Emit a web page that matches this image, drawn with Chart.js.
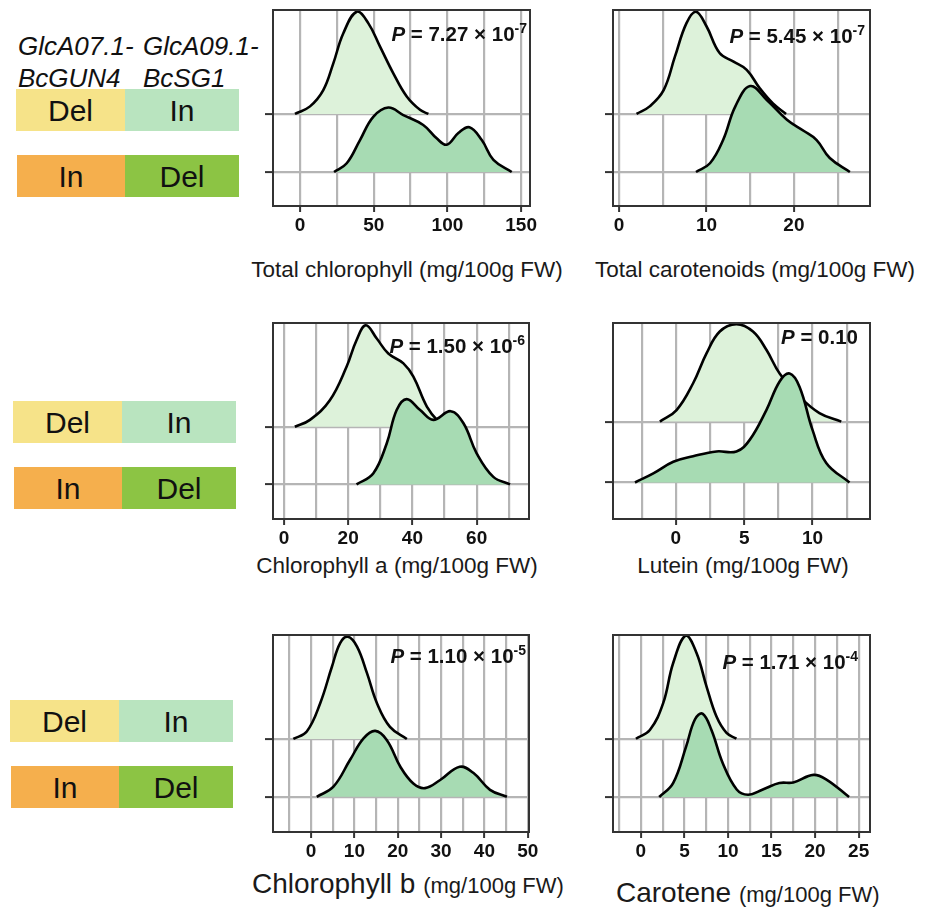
<!DOCTYPE html>
<html>
<head>
<meta charset="utf-8">
<script src="https://cdn.jsdelivr.net/npm/chart.js@4.4.1/dist/chart.umd.min.js"></script>
<style>
  body { margin: 0; background: #fff; }
  #page { position: relative; width: 930px; height: 911px; overflow: hidden; font-family: "Liberation Sans", Arial, sans-serif; color: #111; }
  .panel { position: absolute; }
  .cell { position: absolute; height: 42px; line-height: 44px; text-align: center; font-size: 30px; }
  .gene { position: absolute; font-size: 26px; font-style: italic; line-height: 1; white-space: nowrap; }
  .pval { position: absolute; font-size: 20.5px; font-weight: bold; line-height: 1; white-space: nowrap; color: #111; }
  .pval sup { font-size: 14px; line-height: 0; vertical-align: 8px; }
  .xt { position: absolute; width: 400px; text-align: center; font-size: 22.5px; line-height: 1; white-space: nowrap; color: #1a1a1a; }
  .xt2 { position: absolute; font-size: 28px; line-height: 28px; white-space: nowrap; color: #1a1a1a; }
  .xt2 span { font-size: 22px; line-height: 1; }
</style>
</head>
<body>
<div id="page">
  <div class="gene" style="left:18px;top:33px">GlcA07.1-</div>
  <div class="gene" style="left:18px;top:65px">BcGUN4</div>
  <div class="gene" style="left:143px;top:33px">GlcA09.1-</div>
  <div class="gene" style="left:143px;top:65px">BcSG1</div>

  <div class="cell" style="left:16px;top:89px;width:109px;background:#f6e389">Del</div>
  <div class="cell" style="left:125px;top:89px;width:114px;background:#b9e4bf">In</div>
  <div class="cell" style="left:17px;top:155px;width:108px;background:#f5af4d">In</div>
  <div class="cell" style="left:125px;top:155px;width:114px;background:#8cc444">Del</div>

  <div class="cell" style="left:13px;top:401px;width:109px;background:#f6e389">Del</div>
  <div class="cell" style="left:122px;top:401px;width:114px;background:#b9e4bf">In</div>
  <div class="cell" style="left:14px;top:467px;width:108px;background:#f5af4d">In</div>
  <div class="cell" style="left:122px;top:467px;width:114px;background:#8cc444">Del</div>

  <div class="cell" style="left:10px;top:700px;width:109px;background:#f6e389">Del</div>
  <div class="cell" style="left:119px;top:700px;width:114px;background:#b9e4bf">In</div>
  <div class="cell" style="left:11px;top:766px;width:108px;background:#f5af4d">In</div>
  <div class="cell" style="left:119px;top:766px;width:114px;background:#8cc444">Del</div>

  <div class="panel" style="left:265px;top:8px"><canvas id="totalChl" width="281" height="228"></canvas></div>
  <div class="panel" style="left:605px;top:8px"><canvas id="totalCar" width="281" height="228"></canvas></div>
  <div class="panel" style="left:265px;top:321px"><canvas id="chlA" width="280" height="228"></canvas></div>
  <div class="panel" style="left:605px;top:321px"><canvas id="lutein" width="281" height="228"></canvas></div>
  <div class="panel" style="left:265px;top:633px"><canvas id="chlB" width="280" height="229"></canvas></div>
  <div class="panel" style="left:605px;top:633px"><canvas id="carotene" width="281" height="229"></canvas></div>

  <div class="pval" style="right:403px;top:24px"><i>P</i> = 7.27 × 10<sup>-7</sup></div>
  <div class="pval" style="right:65px;top:26px"><i>P</i> = 5.45 × 10<sup>-7</sup></div>
  <div class="pval" style="right:405px;top:336px"><i>P</i> = 1.50 × 10<sup>-6</sup></div>
  <div class="pval" style="right:72px;top:327px"><i>P</i> = 0.10</div>
  <div class="pval" style="right:404px;top:646px"><i>P</i> = 1.10 × 10<sup>-5</sup></div>
  <div class="pval" style="right:72px;top:652px"><i>P</i> = 1.71 × 10<sup>-4</sup></div>

  <div class="xt" style="left:207px;top:259px">Total chlorophyll (mg/100g FW)</div>
  <div class="xt" style="left:555px;top:259px">Total carotenoids (mg/100g FW)</div>
  <div class="xt" style="left:197px;top:555px">Chlorophyll a (mg/100g FW)</div>
  <div class="xt" style="left:543px;top:555px">Lutein (mg/100g FW)</div>
  <div class="xt2" style="left:252px;top:870px">Chlorophyll b <span>(mg/100g FW)</span></div>
  <div class="xt2" style="left:616px;top:879px">Carotene <span>(mg/100g FW)</span></div>
</div>

<script>
// ridge heights are in "row units": 1 = gap between the two baselines
// top ridge = GlcA07.1 Del / GlcA09.1 In, bottom ridge = In / Del

const totalChlX_delIn = [-3.4, 6.8, 15.8, 22.6, 29.4, 38.5, 46.4, 54.3, 63.3, 72.4, 81.4, 87.1];
const totalChlH_delIn = [0, 0.13, 0.41, 0.87, 1.39, 1.76, 1.56, 1.16, 0.70, 0.30, 0.07, 0];
const totalChlX_inDel = [23.1, 31.7, 40.7, 49.7, 59.9, 70.1, 83.6, 92.7, 99.5, 107.4, 114.9, 123.3, 131.2, 143.6];
const totalChlH_inDel = [0, 0.15, 0.55, 0.95, 1.11, 0.98, 0.81, 0.58, 0.47, 0.67, 0.77, 0.55, 0.21, 0];
const totalChlTicks = [0, 50, 100, 150];

const totalCarX_delIn = [2.0, 3.5, 5.1, 6.4, 7.7, 8.8, 10.0, 11.5, 13.1, 14.6, 16.1, 17.6, 19.1];
const totalCarH_delIn = [0, 0.13, 0.41, 0.99, 1.56, 1.76, 1.51, 1.05, 0.90, 0.76, 0.44, 0.18, 0];
const totalCarX_inDel = [8.8, 10.4, 11.9, 13.3, 15.0, 16.9, 19.2, 21.1, 22.6, 24.1, 26.4];
const totalCarH_inDel = [0, 0.15, 0.55, 1.13, 1.48, 1.24, 0.90, 0.71, 0.55, 0.24, 0];
const totalCarTicks = [0, 10, 20];

const chlAX_delIn = [3.4, 8.1, 14.3, 19.5, 22.6, 25.5, 28.9, 32.5, 37.2, 40.3, 44.5, 48.1, 50.7];
const chlAH_delIn = [0, 0.12, 0.46, 1.04, 1.50, 1.76, 1.53, 1.27, 1.10, 0.87, 0.35, 0.09, 0];
const chlAX_inDel = [22.6, 27.8, 32.0, 35.1, 38.2, 42.4, 46.5, 51.9, 55.9, 60.0, 65.2, 70.4];
const chlAH_inDel = [0, 0.19, 0.71, 1.29, 1.48, 1.29, 1.12, 1.27, 1.06, 0.54, 0.13, 0];
const chlATicks = [0, 20, 40, 60];

const luteinX_delIn = [-1.17, 0.05, 1.26, 2.24, 3.21, 4.43, 5.64, 6.62, 7.59, 9.05, 10.5, 12.1];
const luteinH_delIn = [0, 0.19, 0.63, 1.12, 1.48, 1.60, 1.48, 1.18, 0.79, 0.41, 0.14, 0];
const luteinX_inDel = [-2.99, -1.65, -0.19, 1.26, 2.97, 4.43, 5.40, 6.62, 7.59, 8.32, 9.05, 10.0, 11.0, 12.7];
const luteinH_inDel = [0, 0.15, 0.34, 0.43, 0.51, 0.51, 0.70, 1.19, 1.66, 1.79, 1.57, 0.86, 0.32, 0];
const luteinTicks = [0, 5, 10];

const chlBX_delIn = [-4.1, -1.0, 2.1, 4.8, 6.7, 8.5, 10.6, 12.9, 15.2, 18.2, 22.1];
const chlBH_delIn = [0, 0.13, 0.62, 1.25, 1.66, 1.77, 1.60, 1.14, 0.62, 0.21, 0];
const chlBX_inDel = [1.3, 5.1, 9.0, 12.1, 14.8, 17.5, 20.6, 23.6, 26.3, 29.8, 34.3, 37.5, 41.3, 45.2];
const chlBH_inDel = [0, 0.17, 0.64, 1.01, 1.14, 0.98, 0.52, 0.23, 0.15, 0.29, 0.52, 0.41, 0.12, 0];
const chlBTicks = [0, 10, 20, 30, 40, 50];

const caroteneX_delIn = [-0.57, 1.03, 2.56, 3.71, 5.16, 6.39, 7.53, 8.68, 9.83, 10.97];
const caroteneH_delIn = [0, 0.15, 0.61, 1.30, 1.77, 1.47, 0.90, 0.38, 0.10, 0];
const caroteneX_inDel = [2.1, 3.7, 5.2, 6.2, 7.07, 8.1, 9.4, 11.0, 12.3, 14.0, 15.9, 17.5, 19.8, 21.3, 23.9];
const caroteneH_inDel = [0, 0.24, 0.87, 1.33, 1.43, 1.15, 0.58, 0.13, 0.04, 0.13, 0.24, 0.25, 0.38, 0.30, 0];
const caroteneTicks = [0, 5, 10, 15, 20, 25];

const LIGHT = "#ddf2da";
const DARK = "#a7dbb3";

// box around each plot area
const frame = {
  id: "frame",
  afterDatasetsDraw(chart) {
    const { ctx, chartArea: a } = chart;
    ctx.save();
    ctx.strokeStyle = "#333";
    ctx.lineWidth = 2;
    ctx.strokeRect(a.left, a.top, a.right - a.left, a.bottom - a.top);
    ctx.restore();
  }
};

function ridge(xs, hs, base, color) {
  return {
    data: xs.map((x, i) => ({ x, y: base + hs[i] })),
    fill: { value: base },
    backgroundColor: color,
    borderColor: "#000",
    borderWidth: 2.6,
    pointRadius: 0,
    tension: 0.4
  };
}

function isOn(v, list) {
  return list.some(t => Math.abs(t - v) < 1e-6);
}

function makePanel(id, top, bottom, ticks, xmin, xmax, step, ymin, ymax) {
  const grid = [];
  for (let v = Math.ceil(xmin / step) * step; v <= xmax + 1e-9; v += step) {
    grid.push(Math.round(v * 1000) / 1000);
  }

  new Chart(document.getElementById(id), {
    type: "line",
    data: {
      // first dataset is drawn last, so the lower ridge sits in front
      datasets: [
        ridge(bottom[0], bottom[1], 1, DARK),
        ridge(top[0], top[1], 2, LIGHT)
      ]
    },
    options: {
      responsive: false,
      animation: false,
      events: [],
      layout: { padding: { top: 2, right: 16, left: 0, bottom: 0 } },
      plugins: { legend: { display: false }, tooltip: { enabled: false } },
      scales: {
        x: {
          type: "linear",
          min: xmin,
          max: xmax,
          afterBuildTicks: axis => { axis.ticks = grid.map(v => ({ value: v })); },
          afterFit: axis => { axis.height = 30; },
          ticks: {
            autoSkip: false,
            maxRotation: 0,
            padding: 2,
            color: "#111",
            font: { family: "'Liberation Sans', Arial, sans-serif", size: 19, weight: "bold" },
            callback: v => isOn(v, ticks) ? String(v) : ""
          },
          grid: {
            color: "#b5b5b5",
            lineWidth: 2.2,
            tickLength: 6,
            tickWidth: 2,
            tickColor: c => (c.tick && isOn(c.tick.value, ticks)) ? "#333" : "rgba(0,0,0,0)"
          },
          border: { display: false }
        },
        y: {
          type: "linear",
          min: ymin,
          max: ymax,
          afterBuildTicks: axis => { axis.ticks = [{ value: 1 }, { value: 2 }]; },
          afterFit: axis => { axis.width = 8; },
          ticks: { display: false },
          grid: {
            color: "#b5b5b5",
            lineWidth: 2.2,
            tickLength: 8,
            tickWidth: 2,
            tickColor: "#333"
          },
          border: { display: false }
        }
      }
    },
    plugins: [frame]
  });
}

window.addEventListener("DOMContentLoaded", () => {
  if (typeof Chart === "undefined") return;

  makePanel("totalChl", [totalChlX_delIn, totalChlH_delIn], [totalChlX_inDel, totalChlH_inDel],
    totalChlTicks, -18.3, 156, 25, 0.414, 3.79);
  makePanel("totalCar", [totalCarX_delIn, totalCarH_delIn], [totalCarX_inDel, totalCarH_inDel],
    totalCarTicks, -0.69, 28.7, 5, 0.414, 3.79);
  makePanel("chlA", [chlAX_delIn, chlAH_delIn], [chlAX_inDel, chlAH_inDel],
    chlATicks, -3.4, 76.3, 10, 0.40, 3.80);
  makePanel("lutein", [luteinX_delIn, luteinH_delIn], [luteinX_inDel, luteinH_inDel],
    luteinTicks, -4.6, 14.2, 2.5, 0.40, 3.62);
  makePanel("chlB", [chlBX_delIn, chlBH_delIn], [chlBX_inDel, chlBH_inDel],
    chlBTicks, -8.8, 50.3, 5, 0.39, 3.80);
  makePanel("carotene", [caroteneX_delIn, caroteneH_delIn], [caroteneX_inDel, caroteneH_inDel],
    caroteneTicks, -3.2, 26.3, 2.5, 0.40, 3.78);
});
</script>
</body>
</html>
